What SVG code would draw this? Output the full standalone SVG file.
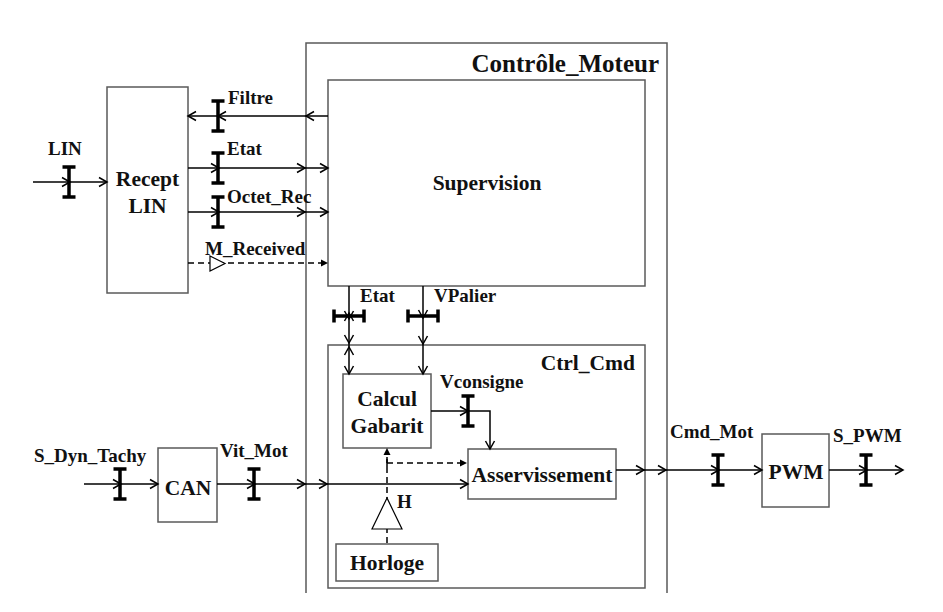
<svg xmlns="http://www.w3.org/2000/svg" xmlns:xlink="http://www.w3.org/1999/xlink" width="943" height="612" viewBox="0 0 943 612">
<style>
.box{fill:#fff;stroke:#5a5a5a;stroke-width:1.5}
.frame{fill:none;stroke:#5a5a5a;stroke-width:1.5}
.ln{fill:none;stroke:#000;stroke-width:1.5}
.dl{fill:none;stroke:#000;stroke-width:1.5;stroke-dasharray:6 4}
.ah{fill:none;stroke:#000;stroke-width:1.5}
.ib{fill:none;stroke:#000;stroke-width:3.5}
.t{font-family:"Liberation Serif","Times New Roman",serif;font-weight:bold;fill:#111}
.n{font-size:21.5px;text-anchor:middle}
.l{font-size:19px}
</style>
<defs>
<path id="chev" d="M-8,-4.5 L0,0 L-8,4.5" class="ah"/>
<path id="ibar" d="M0,-15 V15 M-6.5,-15 H6.5 M-6.5,15 H6.5" class="ib"/>
<path id="fa" d="M-7,-3.5 L0,0 L-7,3.5 Z" fill="#000"/>
</defs>

<g id="controle_moteur">
<path class="frame" d="M306,593 V43 H667 V593"/>
<text class="t" x="659" y="72" font-size="25" text-anchor="end">Contrôle_Moteur</text>
</g>

<g id="supervision">
<rect class="box" x="328" y="80" width="317" height="206"/>
<text class="t n" x="487" y="190">Supervision</text>
</g>

<g id="ctrl_cmd">
<rect class="frame" x="328" y="345" width="317" height="243"/>
<text class="t" x="635" y="370" font-size="21.5" text-anchor="end">Ctrl_Cmd</text>
</g>

<g id="recept_lin">
<rect class="box" x="107" y="87" width="81" height="206"/>
<text class="t n" x="147.5" y="186">Recept</text>
<text class="t n" x="147.5" y="213">LIN</text>
</g>

<g id="calcul_gabarit">
<rect class="box" x="343" y="374" width="88" height="74"/>
<text class="t n" x="387" y="406">Calcul</text>
<text class="t n" x="387" y="433">Gabarit</text>
</g>

<g id="asservissement">
<rect class="box" x="468" y="449" width="148" height="50"/>
<text class="t n" x="542" y="482">Asservissement</text>
</g>

<g id="horloge">
<rect class="box" x="336" y="544" width="102" height="37"/>
<text class="t n" x="387" y="570">Horloge</text>
</g>

<g id="can">
<rect class="box" x="158" y="448" width="59" height="74"/>
<text class="t n" x="188" y="495">CAN</text>
</g>

<g id="pwm">
<rect class="box" x="762" y="434" width="67" height="73"/>
<text class="t n" x="796" y="479">PWM</text>
</g>

<g id="connectors">
<!-- LIN -->
<line class="ln" x1="33" y1="182" x2="107" y2="182"/>
<use href="#ibar" x="69" y="182"/>
<use href="#chev" x="70" y="182"/>
<use href="#chev" x="107" y="182"/>
<text class="t l" x="48" y="155">LIN</text>

<!-- Filtre -->
<line class="ln" x1="328" y1="116" x2="188" y2="116"/>
<use href="#ibar" x="218" y="116"/>
<use href="#chev" transform="translate(188,116) rotate(180)"/>
<use href="#chev" transform="translate(218,116) rotate(180)"/>
<use href="#chev" transform="translate(306,116) rotate(180)"/>
<text class="t l" x="228" y="104">Filtre</text>

<!-- Etat -->
<line class="ln" x1="188" y1="168" x2="328" y2="168"/>
<use href="#ibar" x="218" y="168"/>
<use href="#chev" x="219" y="168"/>
<use href="#chev" x="305" y="168"/>
<use href="#chev" x="328" y="168"/>
<text class="t l" x="227" y="155">Etat</text>

<!-- Octet_Rec -->
<line class="ln" x1="188" y1="212" x2="328" y2="212"/>
<use href="#ibar" x="218" y="212"/>
<use href="#chev" x="219" y="212"/>
<use href="#chev" x="305" y="212"/>
<use href="#chev" x="328" y="212"/>
<text class="t l" x="227" y="203">Octet_Rec</text>

<!-- M_Received -->
<line class="dl" x1="188" y1="263" x2="322" y2="263"/>
<polygon points="210,256 225,263.5 210,271" fill="#fff" stroke="#000" stroke-width="1.2"/>
<use href="#fa" x="328" y="263"/>
<text class="t l" x="205" y="255">M_Received</text>

<!-- Etat vertical -->
<line class="ln" x1="349" y1="286" x2="349" y2="374"/>
<use href="#ibar" transform="translate(349,316) rotate(90)"/>
<use href="#chev" transform="translate(349,319) rotate(90)"/>
<use href="#chev" transform="translate(349,313) rotate(-90)"/>
<use href="#chev" transform="translate(349,343) rotate(90)"/>
<use href="#chev" transform="translate(349,347) rotate(-90)"/>
<use href="#chev" transform="translate(349,374) rotate(90)"/>
<text class="t l" x="360" y="302">Etat</text>

<!-- VPalier -->
<line class="ln" x1="423" y1="286" x2="423" y2="374"/>
<use href="#ibar" transform="translate(423,316) rotate(90)"/>
<use href="#chev" transform="translate(423,318) rotate(90)"/>
<use href="#chev" transform="translate(423,344) rotate(90)"/>
<use href="#chev" transform="translate(423,374) rotate(90)"/>
<text class="t l" x="434" y="302">VPalier</text>

<!-- Vconsigne -->
<polyline class="ln" points="431,411 490,411 490,449"/>
<use href="#ibar" x="468" y="411"/>
<use href="#chev" x="468" y="411"/>
<use href="#chev" transform="translate(490,449) rotate(90)"/>
<text class="t l" x="440" y="388">Vconsigne</text>

<!-- S_Dyn_Tachy -->
<line class="ln" x1="84" y1="484" x2="158" y2="484"/>
<use href="#ibar" x="120" y="484"/>
<use href="#chev" x="121" y="484"/>
<use href="#chev" x="158" y="484"/>
<text class="t l" x="34" y="462">S_Dyn_Tachy</text>

<!-- Vit_Mot -->
<line class="ln" x1="217" y1="484" x2="468" y2="484"/>
<use href="#ibar" x="254" y="484"/>
<use href="#chev" x="255" y="484"/>
<use href="#chev" x="305" y="484"/>
<use href="#chev" x="327" y="484"/>
<use href="#chev" x="468" y="484"/>
<text class="t l" x="220" y="457">Vit_Mot</text>

<!-- Cmd_Mot -->
<line class="ln" x1="616" y1="470" x2="762" y2="470"/>
<use href="#chev" x="644" y="470"/>
<use href="#chev" x="666" y="470"/>
<use href="#ibar" x="718" y="470"/>
<use href="#chev" x="719" y="470"/>
<use href="#chev" x="762" y="470"/>
<text class="t l" x="670" y="438">Cmd_Mot</text>

<!-- S_PWM -->
<line class="ln" x1="829" y1="470" x2="903" y2="470"/>
<use href="#ibar" x="866" y="470"/>
<use href="#chev" x="867" y="470"/>
<use href="#chev" x="903" y="470"/>
<text class="t l" x="833" y="442">S_PWM</text>

<!-- H clock -->
<line class="dl" x1="387" y1="543" x2="387" y2="454"/>
<use href="#fa" transform="translate(387,448) rotate(-90)"/>
<line class="dl" x1="387" y1="463" x2="461" y2="463"/>
<line class="ln" x1="387" y1="459" x2="387" y2="467"/>
<use href="#fa" x="467" y="463"/>
<polygon points="387,498 372,529 402,529" fill="#fff" stroke="#000" stroke-width="1.2"/>
<text class="t l" x="397" y="508">H</text>
</g>
</svg>
